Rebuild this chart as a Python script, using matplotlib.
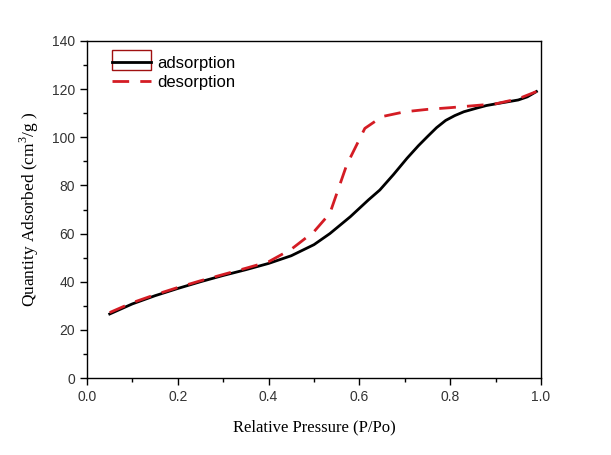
import numpy as np
import matplotlib.pyplot as plt
from matplotlib.patches import Rectangle

plt.rcParams['mathtext.fontset'] = 'custom'
plt.rcParams['mathtext.rm'] = 'Liberation Serif'

# adsorption branch (P/Po, cm3/g)
p_ads = [0.05, 0.10, 0.15, 0.20, 0.25, 0.30, 0.35, 0.40, 0.45, 0.50, 0.535, 0.58,
         0.62, 0.645, 0.675, 0.705, 0.73, 0.75, 0.77, 0.79, 0.81, 0.83, 0.86,
         0.88, 0.91, 0.95, 0.97, 0.99]
q_ads = [26.6, 30.8, 34.2, 37.2, 40.0, 42.6, 45.0, 47.6, 50.8, 55.4, 60.0, 67.0,
         74.0, 78.1, 84.5, 91.3, 96.5, 100.3, 104.0, 107.0, 109.0, 110.6, 112.2,
         113.2, 114.2, 115.5, 116.8, 119.0]

# desorption branch
p_des = [0.05, 0.10, 0.15, 0.20, 0.25, 0.30, 0.35, 0.40, 0.45, 0.50, 0.535,
         0.572, 0.612, 0.65, 0.70, 0.75, 0.80, 0.85, 0.90, 0.95, 0.99]
q_des = [27.2, 31.3, 34.6, 37.6, 40.4, 43.0, 45.6, 48.3, 53.5, 60.8, 68.4,
         88.5, 103.7, 108.6, 110.6, 111.6, 112.3, 113.1, 113.9, 116.0, 119.0]

fig = plt.figure(figsize=(6.11, 4.55), dpi=100)
ax = fig.add_axes([0.1424, 0.1692, 0.7430, 0.7407])

ax.plot(p_ads, q_ads, color='black', lw=2.0, label='adsorption')
ax.plot(p_des, q_des, color='#d41c24', lw=2.0, dashes=(6, 4), label='desorption')

ax.set_xlim(0, 1.0)
ax.set_ylim(0, 140)
ax.set_xticks(np.arange(0, 1.01, 0.2))
ax.set_xticks(np.arange(0.1, 1.0, 0.2), minor=True)
ax.set_yticks(np.arange(0, 141, 20))
ax.set_yticks(np.arange(10, 140, 20), minor=True)
ax.set_xticklabels([f'{v:.1f}' for v in np.arange(0, 1.01, 0.2)])
ax.tick_params(which='major', direction='out', length=5, width=1,
               labelsize=10, labelcolor='#333333')
ax.tick_params(which='minor', direction='out', length=3, width=1)
for lab in ax.get_xticklabels() + ax.get_yticklabels():
    lab.set_family('Liberation Sans')
for s in ax.spines.values():
    s.set_linewidth(1.0)

ax.set_xlabel('Relative Pressure (P/Po)', family='Liberation Serif', fontsize=12,
              labelpad=11)
ax.set_ylabel('Quantity Adsorbed (cm$^3$/g )', family='Liberation Serif',
              fontsize=12.5, labelpad=8)

leg = ax.legend(loc='upper left', bbox_to_anchor=(0.055, 0.955), frameon=False,
                prop={'family': 'Liberation Sans', 'size': 12},
                handlelength=2.35, handletextpad=0.36, labelspacing=0.25,
                borderpad=0, borderaxespad=0)

# selection box around the adsorption legend handle
ax.add_patch(Rectangle((0.055, 0.914), 0.087, 0.059, transform=ax.transAxes,
                       fill=False, edgecolor='#a01010', lw=1.0))

fig.savefig('out.png', dpi=100)
